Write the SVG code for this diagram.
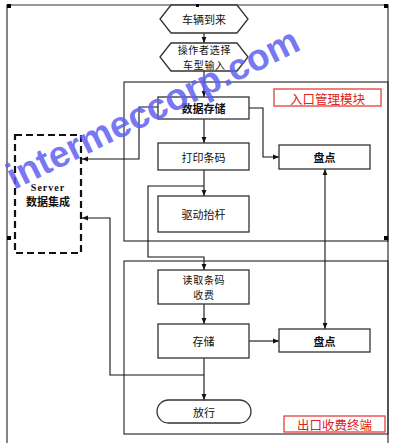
<svg xmlns="http://www.w3.org/2000/svg" width="400" height="443" viewBox="0 0 400 443">
<defs>
<marker id="ah" viewBox="0 0 10 10" refX="10" refY="5" markerWidth="6" markerHeight="6" orient="auto-start-reverse" markerUnits="userSpaceOnUse">
<path d="M0,1 L10,5 L0,9 Z" fill="#111"/>
</marker>
<style>
.frame{fill:none;stroke:#333;stroke-width:1.2}
.mod{fill:none;stroke:#333;stroke-width:1.2}
.box{fill:#fff;stroke:#333;stroke-width:1.3}
.lbl{fill:#fff;stroke:#e04040;stroke-width:1.3}
.conn{fill:none;stroke:#111;stroke-width:1.1}
.t{font-family:"Noto Sans CJK SC","Liberation Sans",sans-serif;font-size:11px;fill:#111;text-anchor:middle;dominant-baseline:central}
.s{font-size:10px;letter-spacing:0.7px}
.b{font-weight:bold}
.r{fill:#e02020;font-size:12.5px}
.h{fill:#000}
</style>
</defs>
<rect width="400" height="443" fill="#fff"/>
<g id="outer">
<path class="frame" d="M7,443 V5 H388 V443"/>
</g>
<g id="entry-module">
<rect class="mod" x="124" y="82" width="264" height="159"/>
<rect class="lbl" x="274" y="89" width="107" height="17"/>
<text class="t r" x="327.5" y="98">入口管理模块</text>
</g>
<g id="exit-module">
<rect class="mod" x="124" y="261" width="264" height="173"/>
<rect class="lbl" x="284" y="416" width="101" height="16"/>
<text class="t r" x="334.5" y="424.5">出口收费终端</text>
</g>
<g id="connectors">
<path class="conn" d="M204,33 V43" marker-end="url(#ah)"/>
<path class="conn" d="M204,71 V97" marker-end="url(#ah)"/>
<path class="conn" d="M204,119 V143" marker-end="url(#ah)"/>
<path class="conn" d="M204,170 V196" marker-end="url(#ah)"/>
<path class="conn" d="M204,186 H148 V257 H204 V270" marker-end="url(#ah)"/>
<path class="conn" d="M204,304 V324" marker-end="url(#ah)"/>
<path class="conn" d="M249,341 H279" marker-end="url(#ah)"/>
<path class="conn" d="M204,358 V400" marker-end="url(#ah)"/>
<path class="conn" d="M249,108 H263 V157 H279" marker-end="url(#ah)"/>
<path class="conn" d="M325,169 V329" marker-start="url(#ah)" marker-end="url(#ah)"/>
<path class="conn" d="M158,107 H139 V159 H82" marker-end="url(#ah)"/>
<path class="conn" d="M204,375 H110 V218 H82" marker-end="url(#ah)"/>
</g>
<g id="n-arrive">
<polygon class="box" points="160,19 171,5 237,5 248,19 237,33 171,33"/>
<text class="t" x="204" y="19">车辆到来</text>
</g>
<g id="n-select">
<polygon class="box" points="160,57 171,43 237,43 248,57 237,71 171,71"/>
<text class="t s" x="204.4" y="49.7">操作者选择</text>
<text class="t s" x="204.4" y="64.3">车型输入</text>
</g>
<g id="n-store">
<rect class="box" x="158" y="97" width="91" height="22"/>
<text class="t b" x="203.5" y="108">数据存储</text>
</g>
<g id="n-print">
<rect class="box" x="158" y="143" width="91" height="27"/>
<text class="t" x="203.5" y="156.5">打印条码</text>
</g>
<g id="n-gate">
<rect class="box" x="158" y="196" width="91" height="36"/>
<text class="t" x="203.5" y="214">驱动抬杆</text>
</g>
<g id="n-read">
<rect class="box" x="158" y="270" width="91" height="34"/>
<text class="t s" x="203.9" y="279.7">读取条码</text>
<text class="t s" x="203.9" y="294.3">收费</text>
</g>
<g id="n-save">
<rect class="box" x="158" y="324" width="91" height="34"/>
<text class="t" x="203.5" y="341">存储</text>
</g>
<g id="n-release">
<rect class="box" x="157" y="400" width="94" height="23" rx="11.5"/>
<text class="t" x="204" y="411.5">放行</text>
</g>
<g id="n-count1">
<rect class="box" x="279" y="145" width="91" height="24"/>
<text class="t b" x="324.5" y="157">盘点</text>
</g>
<g id="n-count2">
<rect class="box" x="279" y="329" width="91" height="23"/>
<text class="t b" x="324.5" y="340.5">盘点</text>
</g>
<g id="n-server">
<rect x="15" y="135" width="66" height="118" fill="#fff" stroke="#111" stroke-width="2.2" stroke-dasharray="7,4"/>
<text class="t b" x="48" y="187" style="font-family:'Liberation Serif',serif;font-size:10px;letter-spacing:1px">Server</text>
<text class="t b" x="48" y="201">数据集成</text>
</g>
<g id="handles">
<rect class="h" x="7" y="4" width="4" height="4"/>
<rect class="h" x="384" y="4" width="4" height="4"/>
<rect class="h" x="7" y="236" width="4" height="4"/>
<rect class="h" x="384" y="236" width="4" height="4"/>
<rect class="h" x="196" y="4" width="3" height="3"/>
</g>
<text x="14" y="190" transform="rotate(-26 14 190)" style="font-family:'Liberation Sans',sans-serif;font-weight:bold;font-size:37px;fill:#6060f0;fill-opacity:0.85">intermeccorp.com</text>
</svg>
